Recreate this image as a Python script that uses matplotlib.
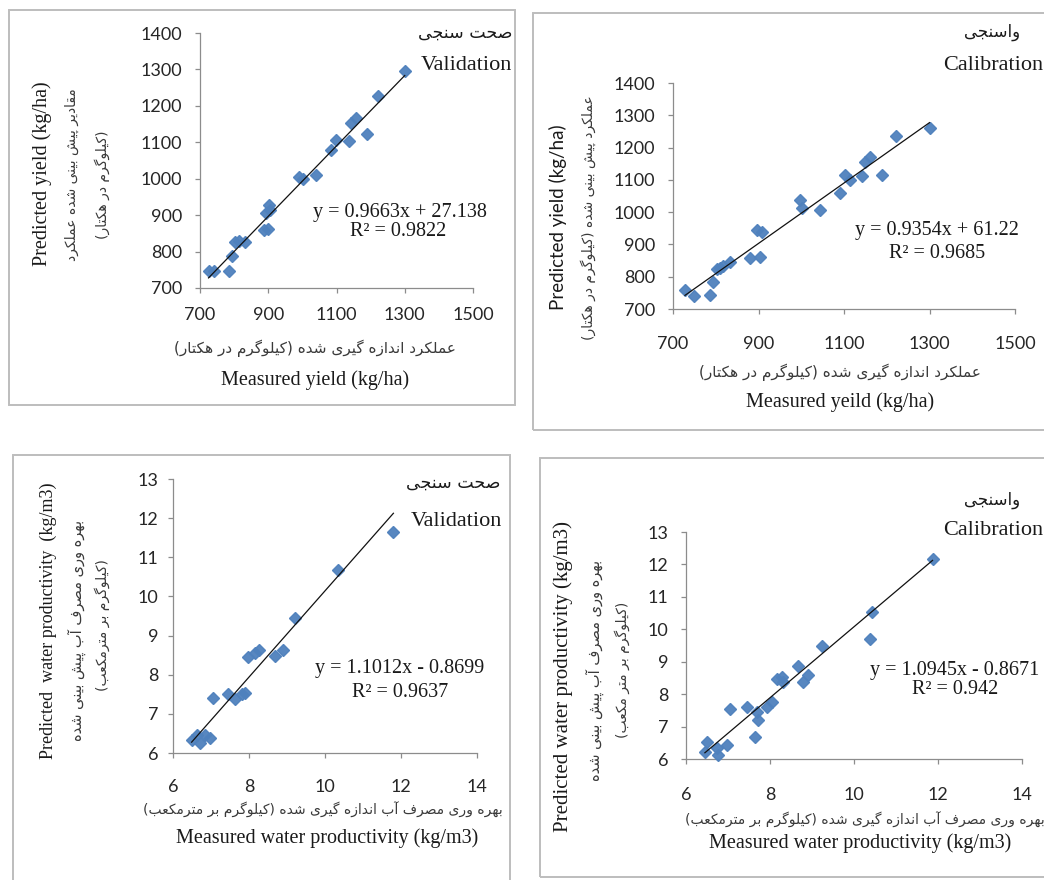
import matplotlib
matplotlib.use('Agg')
import matplotlib.pyplot as plt
from matplotlib.patches import Rectangle

# ---------------- data ----------------
# Yield - validation (kg/ha)
val_yield_meas = [725, 742, 784, 794, 802, 813, 833, 887, 900, 892, 902, 905, 991, 1003,
                  1040, 1083, 1098, 1138, 1143, 1156, 1188, 1222, 1300]
val_yield_pred = [746, 746, 748, 787, 826, 828, 826, 860, 862, 906, 929, 915, 1006, 1000,
                  1011, 1080, 1107, 1103, 1153, 1167, 1123, 1226, 1295]
# Yield - calibration (kg/ha)
cal_yield_meas = [728, 748, 787, 794, 802, 810, 818, 833, 880, 904, 896, 908, 997, 1001,
                  1044, 1091, 1102, 1114, 1143, 1149, 1161, 1190, 1222, 1300]
cal_yield_pred = [759, 740, 743, 785, 823, 826, 832, 847, 857, 862, 945, 940, 1038, 1012,
                  1007, 1060, 1115, 1100, 1112, 1156, 1172, 1115, 1236, 1260]
# Water productivity - validation (kg/m3)
val_wp_meas = [6.49, 6.71, 6.62, 6.84, 6.97, 7.06, 7.46, 7.63, 7.81, 7.89, 7.98, 8.16,
               8.25, 8.68, 8.90, 9.21, 10.35, 11.80]
val_wp_pred = [6.33, 6.26, 6.46, 6.46, 6.38, 7.40, 7.51, 7.37, 7.51, 7.54, 8.46, 8.56,
               8.63, 8.48, 8.63, 9.44, 10.68, 11.65]
# Water productivity - calibration (kg/m3)
cal_wp_meas = [6.49, 6.45, 6.77, 6.73, 6.97, 7.05, 7.46, 7.64, 7.70, 7.72, 7.92, 8.04,
               8.16, 8.28, 8.32, 8.67, 8.79, 8.91, 9.23, 10.38, 10.42, 11.87]
cal_wp_pred = [6.53, 6.23, 6.12, 6.33, 6.43, 7.53, 7.61, 6.69, 7.46, 7.20, 7.61, 7.77,
               8.46, 8.54, 8.38, 8.88, 8.38, 8.59, 9.48, 9.69, 10.54, 12.17]

# trend lines (slope, intercept) and R^2 as printed
fit_slopes = [0.9663, 0.9354, 1.1012, 1.0945]
fit_intercepts = [27.138, 61.22, -0.8699, -0.8671]
eq_labels = ["y = 0.9663x + 27.138", "y = 0.9354x + 61.22",
             "y = 1.1012x - 0.8699", "y = 1.0945x - 0.8671"]
r2_labels = ["R\u00b2 = 0.9822", "R\u00b2 = 0.9685", "R\u00b2 = 0.9637", "R\u00b2 = 0.942"]

yield_xticks = [700, 900, 1100, 1300, 1500]
yield_yticks = [700, 800, 900, 1000, 1100, 1200, 1300, 1400]
wp_xticks = [6, 8, 10, 12, 14]
wp_yticks = [6, 7, 8, 9, 10, 11, 12, 13]

# Persian texts (logical order)
fa_validation = "صحت سنجی"
fa_calibration = "واسنجی"
fa_tl_y2 = "مقادیر پیش بینی شده عملکرد"
fa_tl_y3 = "(کیلوگرم در هکتار)"
fa_tr_y2 = "عملکرد پیش بینی شده (کیلوگرم در هکتار)"
fa_yield_x = "عملکرد اندازه گیری شده (کیلوگرم در هکتار)"
fa_wp_y2 = "بهره وری مصرف آب پیش بینی شده"
fa_bl_y3 = "(کیلوگرم بر مترمکعب)"
fa_br_y3 = "(کیلوگرم بر متر مکعب)"
fa_wp_x = "بهره وری مصرف آب اندازه گیری شده (کیلوگرم بر مترمکعب)"

# ---------------- Persian shaping (contextual forms + RTL) ----------------
FORMS = {
    '\u0627': ('\uFE8D', '\uFE8E', None, None),
    '\u0622': ('\uFE81', '\uFE82', None, None),
    '\u0628': ('\uFE8F', '\uFE90', '\uFE91', '\uFE92'),
    '\u067E': ('\uFB56', '\uFB57', '\uFB58', '\uFB59'),
    '\u062A': ('\uFE95', '\uFE96', '\uFE97', '\uFE98'),
    '\u062C': ('\uFE9D', '\uFE9E', '\uFE9F', '\uFEA0'),
    '\u0686': ('\uFB7A', '\uFB7B', '\uFB7C', '\uFB7D'),
    '\u062D': ('\uFEA1', '\uFEA2', '\uFEA3', '\uFEA4'),
    '\u062F': ('\uFEA9', '\uFEAA', None, None),
    '\u0631': ('\uFEAD', '\uFEAE', None, None),
    '\u0632': ('\uFEAF', '\uFEB0', None, None),
    '\u0633': ('\uFEB1', '\uFEB2', '\uFEB3', '\uFEB4'),
    '\u0634': ('\uFEB5', '\uFEB6', '\uFEB7', '\uFEB8'),
    '\u0635': ('\uFEB9', '\uFEBA', '\uFEBB', '\uFEBC'),
    '\u0639': ('\uFEC9', '\uFECA', '\uFECB', '\uFECC'),
    '\u0641': ('\uFED1', '\uFED2', '\uFED3', '\uFED4'),
    '\u0642': ('\uFED5', '\uFED6', '\uFED7', '\uFED8'),
    '\u06A9': ('\uFB8E', '\uFB8F', '\uFB90', '\uFB91'),
    '\u06AF': ('\uFB92', '\uFB93', '\uFB94', '\uFB95'),
    '\u0644': ('\uFEDD', '\uFEDE', '\uFEDF', '\uFEE0'),
    '\u0645': ('\uFEE1', '\uFEE2', '\uFEE3', '\uFEE4'),
    '\u0646': ('\uFEE5', '\uFEE6', '\uFEE7', '\uFEE8'),
    '\u0648': ('\uFEED', '\uFEEE', None, None),
    '\u0647': ('\uFEE9', '\uFEEA', '\uFEEB', '\uFEEC'),
    '\u06CC': ('\uFBFC', '\uFBFD', '\uFBFE', '\uFBFF'),
}


def fa(s):
    out = []
    n = len(s)
    for i, c in enumerate(s):
        if c not in FORMS:
            out.append(c)
            continue
        f = FORMS[c]
        prev = s[i - 1] if i > 0 else ''
        nxt = s[i + 1] if i < n - 1 else ''
        jp = prev in FORMS and FORMS[prev][2] is not None
        jn = f[2] is not None and nxt in FORMS
        if jp and jn:
            out.append(f[3])
        elif jp:
            out.append(f[1])
        elif jn:
            out.append(f[2])
        else:
            out.append(f[0])
    vis = ''.join(reversed(out))
    return vis.translate(str.maketrans({'(': ')', ')': '('}))


# ---------------- figure ----------------
W, H = 1044, 880
fig = plt.figure(figsize=(W / 100, H / 100), dpi=100)
fig.patch.set_facecolor('white')

SERIF = ['Liberation Serif', 'DejaVu Serif']
SANS = ['Lato', 'DejaVu Sans']
FAF = ['DejaVu Sans']
MK = '#4F81BD'
TXT = '#1a1a1a'
FATXT = '#3a3a3a'


def fx(x):
    return x / W


def fy(y):
    return 1 - y / H


def box(l, t, r, b):
    fig.patches.append(Rectangle((fx(l), fy(b)), (r - l) / W, (b - t) / H,
                                 transform=fig.transFigure, fill=False,
                                 edgecolor='#bdbdbd', linewidth=1.4))


def add_ax(l, r, t, b):
    return fig.add_axes([fx(l), fy(b), (r - l) / W, (b - t) / H])


def text(x, y, s, size, family, ha='center', va='center', rot=0, color=TXT):
    fig.text(fx(x), fy(y), s, fontsize=size, family=family, ha=ha, va=va,
             rotation=rot, color=color, rotation_mode='anchor')


def style(ax, xticks, yticks, xpad, ypad):
    ax.set_xlim(xticks[0], xticks[-1])
    ax.set_ylim(yticks[0], yticks[-1])
    ax.set_xticks(xticks)
    ax.set_yticks(yticks)
    for s in ['top', 'right']:
        ax.spines[s].set_visible(False)
    for s in ['left', 'bottom']:
        ax.spines[s].set_color('#8c8c8c')
        ax.spines[s].set_linewidth(0.9)
    ax.tick_params(direction='out', length=3.5, width=0.9, color='#8c8c8c',
                   labelsize=13, labelcolor='#262626')
    ax.tick_params(axis='x', pad=xpad * 0.72)
    ax.tick_params(axis='y', pad=ypad * 0.72)
    for lab in ax.get_xticklabels() + ax.get_yticklabels():
        lab.set_family(SANS)
    ax.patch.set_alpha(0)


def draw(ax, xs, ys, k):
    ax.plot(xs, ys, 'D', ms=6.4, color=MK, mec=MK, alpha=0.95, clip_on=False, zorder=3)
    x0, x1 = min(xs), max(xs)
    ax.plot([x0, x1], [fit_slopes[k] * x0 + fit_intercepts[k], fit_slopes[k] * x1 + fit_intercepts[k]],
            color='#111111', lw=0.9, clip_on=False, zorder=4)


# panel boxes
box(9, 10, 515, 405)
box(533, 13, 1060, 430)
box(13, 455, 510, 890)
box(540, 458, 1060, 877)

# ---- top-left: yield validation ----
ax1 = add_ax(200, 473, 33, 288)
style(ax1, yield_xticks, yield_yticks, 14, 13)
draw(ax1, val_yield_meas, val_yield_pred, 0)
text(512, 33, fa(fa_validation), 12.5, FAF, ha='right')
text(512, 65, "Validation", 16, SERIF, ha='right')
text(400, 212, eq_labels[0], 14.5, SERIF)
text(398, 231, r2_labels[0], 14.5, SERIF)
text(42, 174, "Predicted yield (kg/ha)", 14.5, SERIF, rot=90)
text(72, 175, fa(fa_tl_y2), 10, FAF, rot=90, color=FATXT)
text(102, 185, fa(fa_tl_y3), 10, FAF, rot=90, color=FATXT)
text(315, 348, fa(fa_yield_x), 11, FAF, color=FATXT)
text(315, 380, "Measured yield (kg/ha)", 14.5, SERIF)

# ---- top-right: yield calibration ----
ax2 = add_ax(673, 1015, 83, 309)
style(ax2, yield_xticks, yield_yticks, 22, 13)
draw(ax2, cal_yield_meas, cal_yield_pred, 1)
text(1020, 32, fa(fa_calibration), 12, FAF, ha='right')
text(1043, 65, "Calibration", 16, SERIF, ha='right')
text(937, 230, eq_labels[1], 14.5, SERIF)
text(937, 253, r2_labels[1], 14.5, SERIF)
text(558, 217, "Predicted yield (kg/ha)", 13.5, SANS, rot=90)
text(588, 218, fa(fa_tr_y2), 10, FAF, rot=90, color=FATXT)
text(840, 372, fa(fa_yield_x), 11, FAF, color=FATXT)
text(840, 402, "Measured yeild (kg/ha)", 14.5, SERIF)

# ---- bottom-left: WP validation ----
ax3 = add_ax(173, 477, 479, 753)
style(ax3, wp_xticks, wp_yticks, 21, 10)
draw(ax3, val_wp_meas, val_wp_pred, 2)
text(500, 483, fa(fa_validation), 12.5, FAF, ha='right')
text(502, 522, "Validation", 16, SERIF, ha='right')
text(400, 668, eq_labels[2], 14.5, SERIF)
text(400, 692, r2_labels[2], 14.5, SERIF)
text(48, 621, "Predicted  water productivity  (kg/m3)", 13, SERIF, rot=90)
text(77, 630, fa(fa_wp_y2), 10.5, FAF, rot=90, color=FATXT)
text(102, 625, fa(fa_bl_y3), 10, FAF, rot=90, color=FATXT)
text(323, 810, fa(fa_wp_x), 10, FAF, color=FATXT)
text(327, 838, "Measured water productivity (kg/m3)", 14.5, SERIF)

# ---- bottom-right: WP calibration ----
ax4 = add_ax(686, 1022, 532, 759)
style(ax4, wp_xticks, wp_yticks, 23, 13)
draw(ax4, cal_wp_meas, cal_wp_pred, 3)
text(1020, 500, fa(fa_calibration), 12, FAF, ha='right')
text(1043, 530, "Calibration", 16, SERIF, ha='right')
text(955, 670, eq_labels[3], 14.5, SERIF)
text(955, 689, r2_labels[3], 14.5, SERIF)
text(563, 676, "Predicted water productivity (kg/m3)", 15, SERIF, rot=90)
text(595, 670, fa(fa_wp_y2), 10.5, FAF, rot=90, color=FATXT)
text(622, 670, fa(fa_br_y3), 10, FAF, rot=90, color=FATXT)
text(865, 820, fa(fa_wp_x), 10, FAF, color=FATXT)
text(860, 843, "Measured water productivity (kg/m3)", 14.5, SERIF)

fig.savefig('out.png', dpi=100, facecolor='white')
